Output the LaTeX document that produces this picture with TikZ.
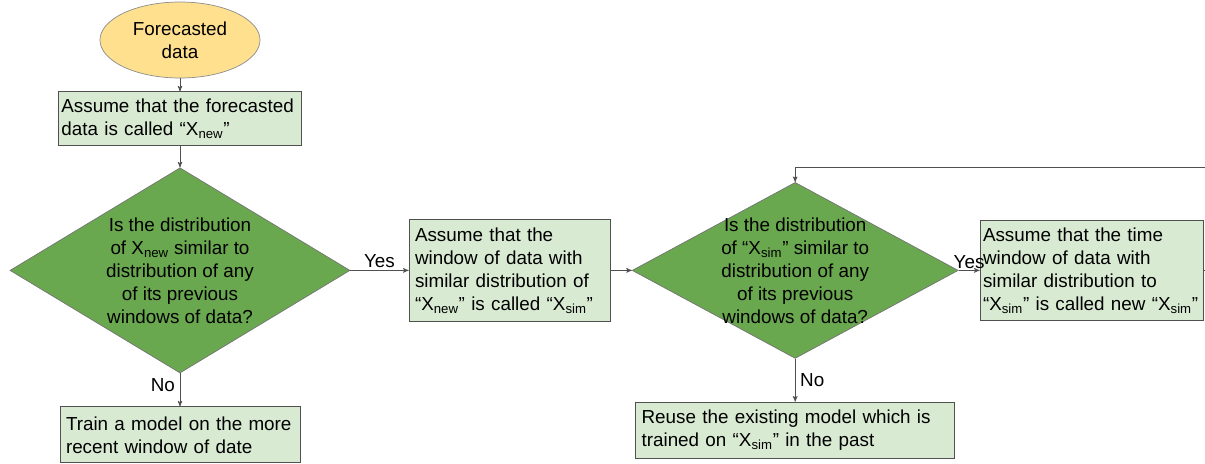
\documentclass[tikz,border=0pt]{standalone}
\usepackage{fontspec}
\setmainfont{Liberation Sans}
\usetikzlibrary{arrows,shapes.geometric}

\definecolor{boxgreen}{HTML}{D9EAD3}
\definecolor{diagreen}{HTML}{6AA84F}
\definecolor{startyellow}{HTML}{FFE08F}
\definecolor{linegray}{HTML}{505050}

\begin{document}
\begin{tikzpicture}[->,>=stealth',line width=0.5pt,draw=linegray,
  every node/.style={font=\fontsize{13.4}{16.4}\selectfont},
  start/.style={ellipse,draw=black!45,fill=startyellow,align=center,
    minimum width=4cm,minimum height=1.9cm,inner sep=0pt},
  box/.style={rectangle,draw=linegray,fill=boxgreen,align=left,
    inner sep=0.15cm},
  decision/.style={diamond,draw=black!55,fill=diagreen,align=center,
    inner sep=-0.3cm}]

\useasboundingbox (0,0) rectangle (30.125,-11.6);

\node[start] (start) at (4.5,-1.0) {Forecasted\\data};
\node[box,text width=5.93cm,inner xsep=0.075cm,minimum height=1.33cm] (b_1)
  [below of=start,node distance=1.96cm]
  {Assume that the forecasted\\data is called “X\textsubscript{new}”};
\node[decision,aspect=1.66,minimum width=8.5cm,minimum height=5.13cm] (d_1)
  [below of=b_1,node distance=3.8cm]
  {Is the distribution\\of X\textsubscript{new} similar to\\distribution of any\\of its previous\\windows of data?};
\node[box,text width=5.7cm,minimum height=1.4cm] (b_3)
  [below of=d_1,node distance=4.11cm]
  {Train a model on the more\\recent window of date};
\node[box,text width=4.73cm,minimum height=2.53cm] (b_2)
  [right of=d_1,node distance=8.24cm]
  {Assume that the\\window of data with\\similar distribution of\\“X\textsubscript{new}” is called “X\textsubscript{sim}”};
\node[decision,aspect=1.85,minimum width=8.15cm,minimum height=4.4cm] (d_2)
  [right of=b_2,node distance=7.14cm]
  {Is the distribution\\of “X\textsubscript{sim}” similar to\\distribution of any\\of its previous\\windows of data?};
\node[box,text width=5.43cm,inner xsep=0.075cm,minimum height=2.5cm] (b_4)
  [right of=d_2,node distance=7.41cm]
  {Assume that the time\\window of data with\\similar distribution to\\“X\textsubscript{sim}” is called new “X\textsubscript{sim}”};
\node[box,text width=7.68cm,minimum height=1.4cm] (b_5)
  [below of=d_2,node distance=3.99cm]
  {Reuse the existing model which is\\trained on “X\textsubscript{sim}” in the past};

\coordinate (loop_in) at (30.125,-4.175);
\coordinate (loop_out) at (b_4.east -| loop_in);

\path (start) edge (b_1)
  (b_1) edge (d_1)
  (d_1) edge node[above,inner sep=2pt] {Yes} (b_2)
  (d_1) edge node[left,pos=0.35] {No} (b_3)
  (b_2) edge (d_2)
  (d_2) edge node[above,inner sep=1pt] {Yes} (b_4)
  (d_2) edge node[right] {No} (b_5);
\draw[-] (b_4.east) -- (loop_out);
\draw (loop_in) -| (d_2.north);

\end{tikzpicture}
\end{document}
